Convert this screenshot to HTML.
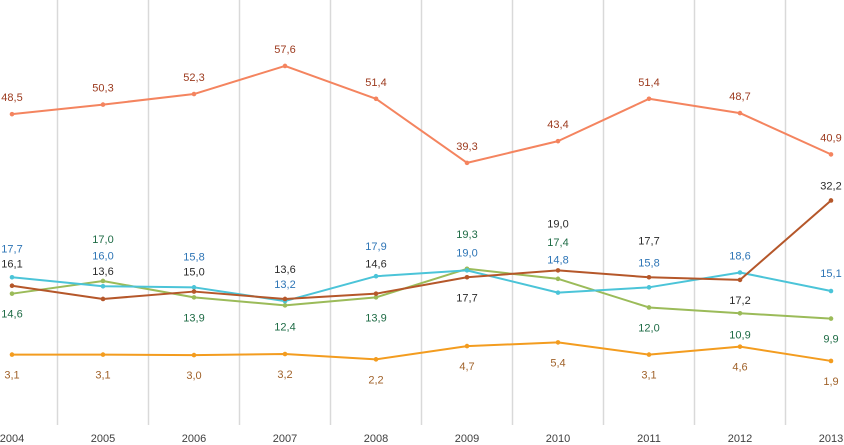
<!DOCTYPE html>
<html><head><meta charset="utf-8"><style>
html,body{margin:0;padding:0;background:#fff;}
svg{display:block;font-family:"Liberation Sans",sans-serif;}
</style></head><body>
<svg id="chart" width="844" height="445" viewBox="0 0 844 445" xmlns="http://www.w3.org/2000/svg"></svg>
<script>
const categories = ["2004","2005","2006","2007","2008","2009","2010","2011","2012","2013"];
const seriesOrange = [48.5,50.3,52.3,57.6,51.4,39.3,43.4,51.4,48.7,40.9];
const seriesCyan = [17.7,16.0,15.8,13.2,17.9,19.0,14.8,15.8,18.6,15.1];
const seriesBrown = [16.1,13.6,15.0,13.6,14.6,17.7,19.0,17.7,17.2,32.2];
const seriesGreen = [14.6,17.0,13.9,12.4,13.9,19.3,17.4,12.0,10.9,9.9];
const seriesYellow = [3.1,3.1,3.0,3.2,2.2,4.7,5.4,3.1,4.6,1.9];

const offOrange = [-17,-17,-17,-17,-17,-17,-17,-17,-17,-17];
const offCyan = [-29,-31,-31,-17,-30,-18,-33,-25,-17,-18];
const offBrown = [-22,-28,-20,-30,-30,20,-47,-37,20,-15];
const offGreen = [20,-42,20,21,20,-35,-37,20,21,20];
const offYellow = [20,20,20,20,20,20,20,20,20,20];

const NS="http://www.w3.org/2000/svg";
const svg=document.getElementById("chart");
function xPos(i){return 12+i*91;}
function yPos(v){return 371-v*5.296;}
function mk(tag,attrs){const e=document.createElementNS(NS,tag);for(const k in attrs)e.setAttribute(k,attrs[k]);svg.appendChild(e);return e;}

for(let i=0;i<categories.length-1;i++){
  const g=mk("line",{x1:xPos(i)+45.5,x2:xPos(i)+45.5,y1:0,y2:425,stroke:"#d9d9d9","stroke-width":1.5});
  
  
}
categories.forEach((c,i)=>{
  const t=mk("text",{x:xPos(i),y:442,"text-anchor":"middle","font-size":11,fill:"#404040"});
  t.textContent=c;
  
  
});

const series=[
 {name:"orange",vals:seriesOrange,off:offOrange,color:"#f4845f",lab:"#9c3a1e"},
 {name:"yellow",vals:seriesYellow,off:offYellow,color:"#f39c1f",lab:"#a0622a"},
 {name:"green",vals:seriesGreen,off:offGreen,color:"#9bbb59",lab:"#1e6b45"},
 {name:"cyan",vals:seriesCyan,off:offCyan,color:"#4bc4d8",lab:"#2e75b6"},
 {name:"brown",vals:seriesBrown,off:offBrown,color:"#b5572a",lab:"#2b2b2b"}
];
series.forEach(s=>{
  const pts=s.vals.map((v,i)=>xPos(i)+","+yPos(v)).join(" ");
  const pl=mk("polyline",{points:pts,fill:"none",stroke:s.color,"stroke-width":2,"stroke-linejoin":"round"});
  
  
  s.vals.forEach((v,i)=>{
    const c=mk("circle",{cx:xPos(i),cy:yPos(v),r:2.3,fill:s.color});
    
    
    const t=mk("text",{x:xPos(i),y:yPos(v)+s.off[i]+4,"text-anchor":"middle","font-size":11,fill:s.lab});
    t.textContent=v.toFixed(1).replace(".",",");
    
    
  });
});
</script>
</body></html>
